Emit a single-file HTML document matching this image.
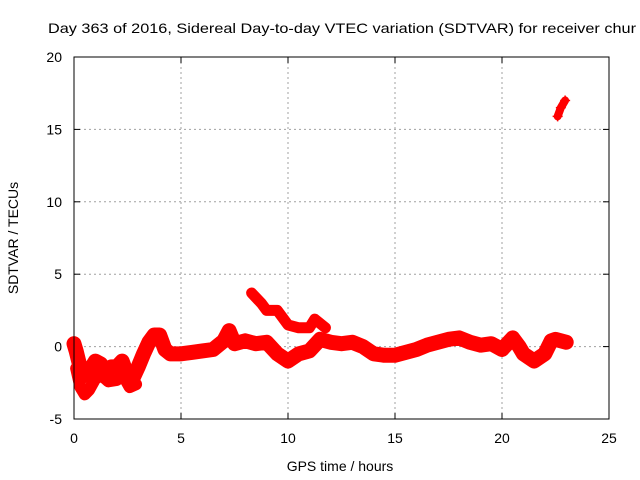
<!DOCTYPE html>
<html><head><meta charset="utf-8"><style>
body{margin:0;background:#fff;}
svg{display:block;font-family:"Liberation Sans",sans-serif;}
</style></head><body>
<svg id="chart" width="640" height="480" viewBox="0 0 640 480">
<rect width="640" height="480" fill="#fff"/>
<text x="48" y="33" font-size="14" textLength="588" lengthAdjust="spacingAndGlyphs" fill="#000">Day 363 of 2016, Sidereal Day-to-day VTEC variation (SDTVAR) for receiver chur</text>
<g id="grid"></g>
<g id="ticks"></g>
<g id="series"></g>
<rect x="74" y="57" width="535" height="362" fill="none" stroke="#000" stroke-width="1"/>
<text x="340" y="471" font-size="14" text-anchor="middle" fill="#000">GPS time / hours</text>
<text x="18" y="238" font-size="14" text-anchor="middle" transform="rotate(-90 18 238)" fill="#000">SDTVAR / TECUs</text>
</svg>
<script>
const xTicks=[0,5,10,15,20,25];
const yTicks=[-5,0,5,10,15,20];
const mainTimes=[0,0.1,0.25,0.5,0.75,1,1.25,1.5,1.75,2,2.25,2.5,2.75,3,3.25,3.5,3.75,4,4.25,4.5,5,5.5,6,6.5,7,7.25,7.5,8,8.5,9,9.5,10,10.5,11,11.5,12,12.5,13,13.5,14,14.5,15,15.5,16,16.5,17,17.5,18,18.5,19,19.5,20,20.5,20.8,21,21.5,22,22.3,22.5,23];
const mainValues=[0.2,-0.3,-1.2,-2.0,-1.6,-1,-1.2,-1.8,-1.4,-1.4,-1,-2.0,-2.2,-1.4,-0.5,0.3,0.8,0.8,-0.2,-0.5,-0.5,-0.4,-0.3,-0.2,0.4,1.1,0.2,0.4,0.2,0.3,-0.5,-1,-0.5,-0.3,0.5,0.3,0.2,0.3,0,-0.5,-0.6,-0.6,-0.4,-0.2,0.1,0.3,0.5,0.6,0.3,0.1,0.2,-0.2,0.6,0,-0.5,-1,-0.5,0.4,0.5,0.3];
const lowerTimes=[0.1,0.3,0.5,0.7,1,1.3,1.6,2,2.3,2.6,2.9];
const lowerValues=[-1.5,-2.8,-3.3,-3.0,-2.2,-2.0,-2.4,-2.3,-2.0,-2.8,-2.6];
const upperTimes=[8.3,8.75,9,9.5,10,10.5,11,11.25,11.75];
const upperValues=[3.7,3,2.5,2.5,1.5,1.3,1.3,1.9,1.3];
const jumpTimes=[22.6,22.75,22.95];
const jumpValues=[15.9,16.5,17.0];
const NS='http://www.w3.org/2000/svg';
const X0=74,X1=609,Y0=419,Y1=57;
function xs(t){return X0+(t-0)/(25-0)*(X1-X0);}
function ys(v){return Y0-(v-(-5))/(20-(-5))*(Y0-Y1);}
function mk(tag,attrs,parent){const e=document.createElementNS(NS,tag);for(const k in attrs)e.setAttribute(k,attrs[k]);parent.appendChild(e);return e;}
const grid=document.getElementById('grid'),ticks=document.getElementById('ticks'),series=document.getElementById('series');
xTicks.forEach(t=>{const x=xs(t);
 if(t>0&&t<25){const g=mk('line',{x1:x,x2:x,y1:Y1,y2:Y0,stroke:'#a0a0a0','stroke-dasharray':'2,3'},grid);
 
 }
 const a=mk('line',{x1:x,x2:x,y1:Y0,y2:Y0-6,stroke:'#000'},ticks);
 const b=mk('line',{x1:x,x2:x,y1:Y1,y2:Y1+6,stroke:'#000'},ticks);
 const l=mk('text',{x:x,y:443,'font-size':14,'text-anchor':'middle',fill:'#000'},ticks);l.textContent=t;
 
 });
yTicks.forEach(v=>{const y=ys(v);
 if(v>-5&&v<20){const g=mk('line',{x1:X0,x2:X1,y1:y,y2:y,stroke:'#a0a0a0','stroke-dasharray':'2,3'},grid);
 
 }
 const a=mk('line',{x1:X0,x2:X0+6,y1:y,y2:y,stroke:'#000'},ticks);
 const b=mk('line',{x1:X1,x2:X1-6,y1:y,y2:y,stroke:'#000'},ticks);
 const l=mk('text',{x:62,y:y+5,'font-size':14,'text-anchor':'end',fill:'#000'},ticks);l.textContent=v;
 
 });
function band(times,vals,w,name){
 const pts=times.map((t,i)=>xs(t)+','+ys(vals[i])).join(' ');
 const p=mk('polyline',{points:pts,fill:'none',stroke:'#ff0000','stroke-width':w,'stroke-linejoin':'round','stroke-linecap':'round'},series);
 
 
 times.forEach((t,i)=>{const x=xs(t),y=ys(vals[i]);
  const m=mk('path',{d:`M${x-5},${y}h10M${x},${y-5}v10`,stroke:'#ff0000','stroke-width':1.5},series);
  
  });
}
band(mainTimes,mainValues,15,'main-band');
band(lowerTimes,lowerValues,12,'lower-band');
band(upperTimes,upperValues,11,'upper-branch');
band(jumpTimes,jumpValues,8,'jump-segment');
</script>
</body></html>
